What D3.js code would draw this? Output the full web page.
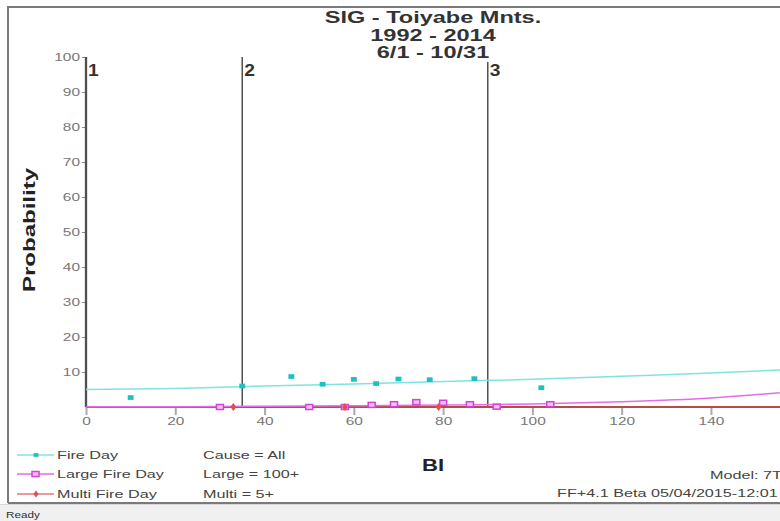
<!DOCTYPE html>
<html><head><meta charset="utf-8">
<script src="https://cdn.jsdelivr.net/npm/d3@7"></script>
<style>html,body{margin:0;padding:0;background:#fff;overflow:hidden}svg{display:block;font-family:"Liberation Sans",Arial,sans-serif}</style>
</head><body>
<script>
// ---- data ----
const titleLines = ["SIG - Toiyabe Mnts.", "1992 - 2014", "6/1 - 10/31"];
const xTicks = [0, 20, 40, 60, 80, 100, 120, 140];
const yTicks = [10, 20, 30, 40, 50, 60, 70, 80, 90, 100];
const breakpoints = [0, 35, 90];
const breakLabels = ["1", "2", "3"];
const curveBI = [0, 20, 40, 60, 80, 100, 120, 140, 160];
const fireCurve = [5.0, 5.3, 6.0, 6.6, 7.3, 7.9, 8.8, 9.7, 10.8];
const largeCurve = [0.05, 0.1, 0.2, 0.35, 0.55, 0.85, 1.5, 2.6, 4.6];
const multiCurve = [0, 0, 0, 0, 0, 0, 0, 0, 0];
const fireBI = [10, 35, 46, 53, 60, 65, 70, 77, 87, 102];
const fireP = [2.7, 6.0, 8.7, 6.5, 7.9, 6.7, 8.0, 7.8, 8.1, 5.5];
const largeBI = [30, 50, 58, 64, 69, 74, 80, 86, 92, 104];
const largeP = [0, 0, 0, 0.6, 0.8, 1.4, 1.2, 0.8, 0.1, 0.8];
const multiBI = [33, 58, 79];
const multiP = [0, 0, 0];
const legendNames = ["Fire Day", "Large Fire Day", "Multi Fire Day"];
const legendNotes = ["Cause = All", "Large = 100+", "Multi = 5+"];

const W = 780, H = 521, SX = 1.47;
const svg = d3.select("body").append("svg").attr("width", W).attr("height", H);

function stretch(sel, f) {
  sel.each(function () {
    const L = this.getComputedTextLength();
    d3.select(this).attr("textLength", L * (f || SX)).attr("lengthAdjust", "spacingAndGlyphs");
  });
  return sel;
}

// frame & status bar
svg.append("rect").attr("x", 0).attr("y", 504).attr("width", W).attr("height", 17).attr("fill", "#f0f0f0");
svg.append("line").attr("x1", 0).attr("x2", W).attr("y1", 504.5).attr("y2", 504.5).attr("stroke", "#d8d8d8");
svg.append("path").attr("d", "M8,503 V7 H780 M8,503 H780").attr("fill", "none").attr("stroke", "#7a7a7a").attr("stroke-width", 2);
stretch(svg.append("text").attr("x", 6).attr("y", 518).attr("font-size", 9).attr("fill", "#333").text("Ready"), 1.3);

const x = d3.scaleLinear().domain([0, 160]).range([86, 86 + 160 * 4.464]);
const y = d3.scaleLinear().domain([0, 100]).range([407, 57]);

// axes
const yAxis = svg.append("g").attr("transform", "translate(86,0)")
  .call(d3.axisLeft(y).tickValues(yTicks).tickSize(4).tickPadding(2));
yAxis.select(".domain").attr("stroke", "#8a8a8a").attr("stroke-width", 2.5).attr("d", "M0," + y(100) + "V" + y(0));
yAxis.selectAll(".tick line").attr("stroke", "#888");
yAxis.selectAll(".tick text").attr("font-size", 10.5).attr("fill", "#777").attr("font-family", "Liberation Sans, Arial").each(function(){stretch(d3.select(this));});

const xAxis = svg.append("g").attr("transform", "translate(0,407)")
  .call(d3.axisBottom(x).tickValues(xTicks).tickSize(8).tickPadding(3));
xAxis.select(".domain").attr("stroke", "#8a8a8a").attr("stroke-width", 2).attr("d", "M86,0H780");
xAxis.selectAll(".tick line").attr("stroke", "#aaa").attr("stroke-width", 2);
xAxis.selectAll(".tick text").attr("font-size", 10.5).attr("fill", "#777").attr("font-family", "Liberation Sans, Arial").each(function(){stretch(d3.select(this));});

// breakpoint lines
breakpoints.forEach((b, i) => {
  svg.append("line").attr("x1", x(b)).attr("x2", x(b)).attr("y1", y(100) + (i === 2 ? 5 : 0)).attr("y2", y(0))
    .attr("stroke", "#505050").attr("stroke-width", i === 0 ? 2 : 1.5);
  stretch(svg.append("text").attr("x", x(b) + 2).attr("y", 76).attr("font-size", 16).attr("font-weight", "bold").attr("fill", "#333").text(breakLabels[i]), 1.2);
});

// curves
const line = d3.line().x((d, i) => x(curveBI[i])).y(d => y(d)).curve(d3.curveMonotoneX);
svg.append("path").datum(fireCurve).attr("d", line).attr("fill", "none").attr("stroke", "#7fe3e3").attr("stroke-width", 1.5);
svg.append("path").datum(multiCurve).attr("d", line).attr("fill", "none").attr("stroke", "#b84a4a").attr("stroke-width", 2);
svg.append("path").datum(largeCurve).attr("d", line).attr("fill", "none").attr("stroke", "#e46ce4").attr("stroke-width", 1.5);

// points
svg.append("g").selectAll("path").data(fireBI).join("path")
  .attr("d", d3.symbol(d3.symbolSquare, 22)())
  .attr("transform", (d, i) => `translate(${x(d)},${y(fireP[i])}) scale(1.25,1)`).attr("fill", "#1fc0c0");
svg.append("g").selectAll("rect").data(largeBI).join("rect")
  .attr("x", d => x(d) - 3.5).attr("y", (d, i) => y(largeP[i]) - 2.5).attr("width", 7).attr("height", 5)
  .attr("fill", "#f3c4f3").attr("stroke", "#d840d8").attr("stroke-width", 1.5);
svg.append("g").selectAll("path").data(multiBI).join("path")
  .attr("d", d3.symbol(d3.symbolDiamond, 18)())
  .attr("transform", (d, i) => `translate(${x(d)},${y(multiP[i])}) scale(1.3,1)`).attr("fill", "#e05050");

// title
titleLines.forEach((t, i) => {
  stretch(svg.append("text").attr("x", 433).attr("y", 23 + i * 17.5).attr("text-anchor", "middle")
    .attr("font-size", 16).attr("font-weight", "bold").attr("fill", "#333").text(t));
});

// axis titles
svg.append("text").attr("transform", "translate(35,230) rotate(-90)").attr("text-anchor", "middle")
  .attr("font-size", 16).attr("font-weight", "bold").attr("fill", "#222")
  .attr("textLength", 124).attr("lengthAdjust", "spacingAndGlyphs").text("Probability");
stretch(svg.append("text").attr("x", 433).attr("y", 471).attr("text-anchor", "middle")
  .attr("font-size", 17).attr("font-weight", "bold").attr("fill", "#222").text("BI"), 1.3);

// legend
const legY = [455, 474, 494];
const legColors = ["#7fe3e3", "#e46ce4", "#e07a7a"];
const legMark = ["#1fc0c0", "#d840d8", "#e05050"];
legendNames.forEach((n, i) => {
  svg.append("line").attr("x1", 17).attr("x2", 54).attr("y1", legY[i]).attr("y2", legY[i]).attr("stroke", legColors[i]).attr("stroke-width", 1.5);
  if (i === 1) svg.append("rect").attr("x", 32).attr("y", legY[i] - 2.5).attr("width", 7).attr("height", 5).attr("fill", "#f3c4f3").attr("stroke", legMark[i]).attr("stroke-width", 1.5);
  else svg.append("path").attr("d", d3.symbol(i === 0 ? d3.symbolSquare : d3.symbolDiamond, 14)()).attr("transform", `translate(36,${legY[i]}) scale(1.3,1)`).attr("fill", legMark[i]);
  stretch(svg.append("text").attr("x", 57).attr("y", legY[i] + 4).attr("font-size", 11).attr("fill", "#444").text(n));
  stretch(svg.append("text").attr("x", 203).attr("y", legY[i] + 4).attr("font-size", 11).attr("fill", "#444").text(legendNotes[i]));
});
stretch(svg.append("text").attr("x", 710).attr("y", 479).attr("font-size", 11).attr("fill", "#444").text("Model: 7T"));
stretch(svg.append("text").attr("x", 557).attr("y", 497).attr("font-size", 11).attr("fill", "#444").text("FF+4.1 Beta 05/04/2015-12:01"));
</script>
</body></html>
